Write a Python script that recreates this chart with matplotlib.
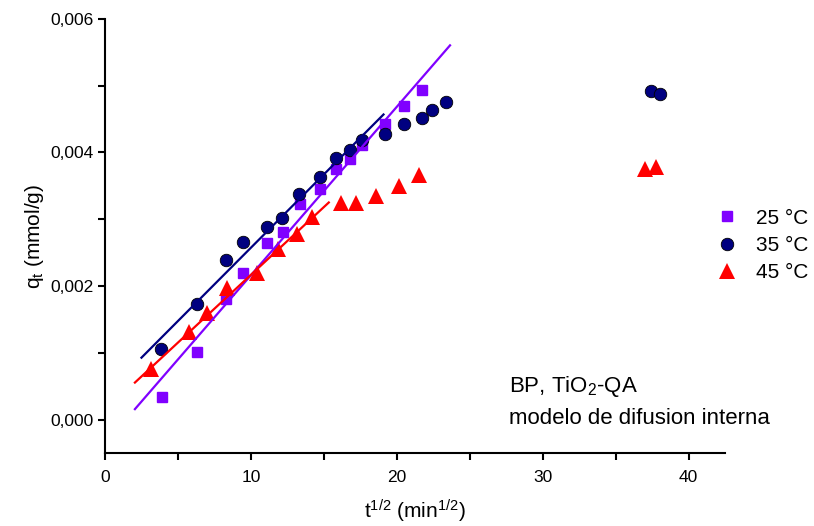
#!/usr/bin/env python3
# -*- coding: utf-8 -*-
""" Internal diffusion model plot, q_t vs t^(1/2) """

import numpy as np
from matplotlib import pyplot as plt
from matplotlib.ticker import MultipleLocator, FuncFormatter

plt.rcParams['font.family'] = ['Liberation Sans', 'DejaVu Sans']
plt.rcParams['mathtext.default'] = 'regular'
plt.rcParams['axes.linewidth'] = 1.5

c_violet = "#8000FF"
c_navy = "#000080"
c_red = "#FF0000"

# data: x = t^(1/2) (min^(1/2)), y = q_t (mmol/g)
x_25 = [3.88, 6.29, 8.32, 9.45, 11.13, 12.17, 13.34, 14.73, 15.84, 16.8,
        17.64, 19.2, 20.5, 21.75]
q_25 = [0.00034, 0.00102, 0.00180, 0.00219, 0.00265, 0.00281, 0.00323,
        0.00345, 0.00376, 0.00390, 0.00411, 0.00443, 0.00469, 0.00493]

x_35 = [3.87, 6.29, 8.32, 9.43, 11.13, 12.15, 13.33, 14.73, 15.84, 16.77,
        17.61, 19.2, 20.5, 21.75, 22.38, 23.38, 37.44, 38.06]
q_35 = [0.00106, 0.00173, 0.00239, 0.00266, 0.00289, 0.00302, 0.00338,
        0.00363, 0.00392, 0.00403, 0.00419, 0.00427, 0.00442, 0.00452,
        0.00463, 0.00475, 0.00492, 0.00488]

x_45 = [3.18, 5.79, 6.97, 8.34, 10.45, 11.88, 13.19, 14.2, 16.2, 17.2,
        18.6, 20.12, 21.54, 37.0, 37.76]
q_45 = [0.00076, 0.00131, 0.00159, 0.00197, 0.00219, 0.00256, 0.00278,
        0.00303, 0.00324, 0.00325, 0.00335, 0.00350, 0.00366, 0.00376,
        0.00379]

# linear fits (slope, intercept) and x range
fit_25 = (2.522e-4, -3.60e-4, 2.05, 23.65)
fit_35 = (2.195e-4, 3.79e-4, 2.50, 19.09)
fit_45 = (2.029e-4, 1.39e-4, 2.05, 15.34)


def comma_fmt(v, pos, dec=3):
    return "{:.{}f}".format(v, dec).replace('.', ',')


fig = plt.figure(figsize=(8.14, 5.26), dpi=100)
ax = fig.add_axes([0.129, 0.138, 0.7617, 0.826])

ax.plot(x_25, q_25, 's', color=c_violet, ms=7.5, mec=c_violet, label="25 °C")
ax.plot(x_35, q_35, 'o', color=c_navy, ms=9, mec='black', mew=0.6,
        label="35 °C")
ax.plot(x_45, q_45, '^', color=c_red, ms=11, mec=c_red, mew=0,
        label="45 °C")

for (m, b, x0, x1), c in zip([fit_25, fit_35, fit_45],
                             [c_violet, c_navy, c_red]):
    xx = np.array([x0, x1])
    ax.plot(xx, m*xx + b, '-', color=c, lw=1.6)

ax.set_xlim(0, 42.5)
ax.set_ylim(-0.000506, 0.006)
ax.xaxis.set_major_locator(MultipleLocator(10))
ax.xaxis.set_minor_locator(MultipleLocator(5))
ax.yaxis.set_major_locator(MultipleLocator(0.002))
ax.yaxis.set_minor_locator(MultipleLocator(0.001))
ax.yaxis.set_major_formatter(FuncFormatter(comma_fmt))
ax.spines['top'].set_visible(False)
ax.spines['right'].set_visible(False)
ax.tick_params(which='both', direction='out', width=1.5, labelsize=12.5)
ax.tick_params(which='major', length=5)
ax.tick_params(which='minor', length=5)
ax.tick_params(axis='x', pad=7)

ax.set_xlabel("t$^{1/2}$ (min$^{1/2}$)", fontsize=15, labelpad=9)
ax.set_ylabel("q$_t$ (mmol/g)", fontsize=15, labelpad=3)

ax.text(0.652, 0.142, "BP, TiO$_2$-QA", transform=ax.transAxes, fontsize=16)
ax.text(0.652, 0.067, "modelo de difusion interna", transform=ax.transAxes,
        fontsize=16)

ax.legend(loc='upper left', bbox_to_anchor=(0.87, 0.619),
          bbox_transform=fig.transFigure, frameon=False, fontsize=15,
          handlelength=1.0, handletextpad=0.9, labelspacing=0.4,
          borderaxespad=0)

fig.savefig("out.png", dpi=100)
